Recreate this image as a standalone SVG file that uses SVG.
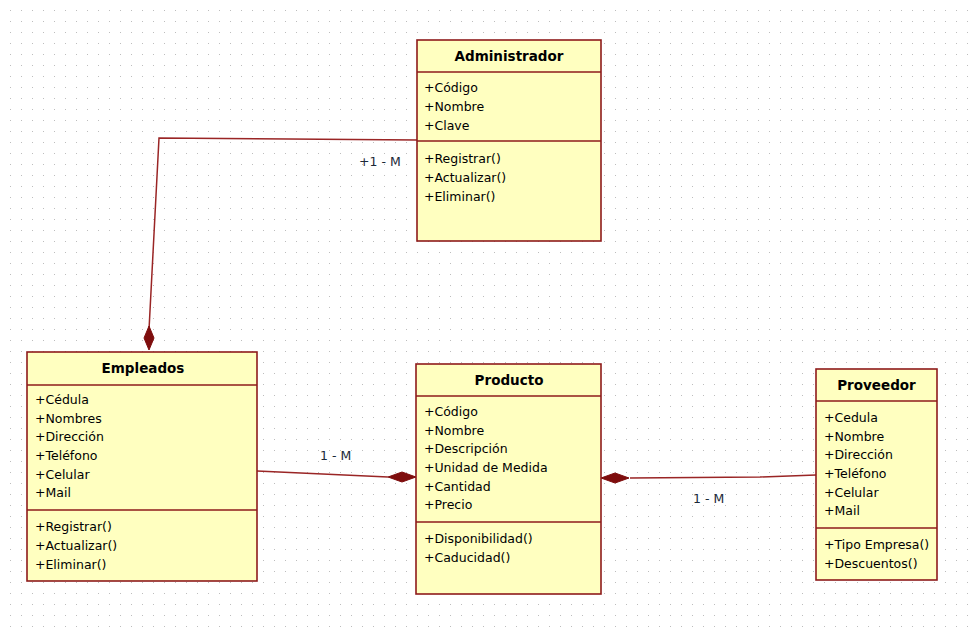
<svg xmlns="http://www.w3.org/2000/svg" width="976" height="633" viewBox="0 0 976 633">
<defs>
<pattern id="grid" x="0" y="0" width="11" height="11" patternUnits="userSpaceOnUse">
<rect x="10" y="10" width="1" height="1" fill="#bdbdbd"/>
</pattern>
<style>
.box{fill:#ffffc0;stroke:#8e1b1b;stroke-width:1.6}
.sep{stroke:#8e1b1b;stroke-width:1.6;fill:none}
.t{font-family:"DejaVu Sans",sans-serif;font-size:12.5px;fill:#000}
.h{font-family:"DejaVu Sans",sans-serif;font-size:13.5px;font-weight:bold;fill:#000;text-anchor:middle}
.conn{stroke:#9a2525;stroke-width:1.5;fill:none}
.dia{fill:#7e0d0d;stroke:#7e0d0d;stroke-width:1}
.lbl{font-family:"DejaVu Sans",sans-serif;font-size:12.5px;fill:#1c2838}
</style>
</defs>
<rect width="976" height="633" fill="#ffffff"/>
<rect width="976" height="633" fill="url(#grid)"/>

<g id="connectors">
<polyline class="conn" points="417,140 289,139 159,138 149,330"/>
<polygon class="dia" points="149,326 154,338 149,350 144,338"/>
<polyline class="conn" points="257,471 388,477"/>
<polygon class="dia" points="388,477 402,472 416,477 402,482"/>
<polyline class="conn" points="630,478 760,477 816,475"/>
<polygon class="dia" points="601,478 615,473 629,478 615,483"/>
<text class="lbl" x="359" y="166">+1 - M</text>
<text class="lbl" x="320" y="460">1 - M</text>
<text class="lbl" x="693" y="503">1 - M</text>
</g>

<g id="administrador">
<rect class="box" x="417" y="40" width="184" height="201"/>
<line class="sep" x1="417" y1="72" x2="601" y2="72"/>
<line class="sep" x1="417" y1="141" x2="601" y2="141"/>
<text class="h" x="509" y="61">Administrador</text>
<text class="t" x="424" y="92">+Código</text>
<text class="t" x="424" y="111">+Nombre</text>
<text class="t" x="424" y="130">+Clave</text>
<text class="t" x="424" y="163">+Registrar()</text>
<text class="t" x="424" y="182">+Actualizar()</text>
<text class="t" x="424" y="201">+Eliminar()</text>
</g>

<g id="empleados">
<rect class="box" x="27" y="352" width="230" height="229"/>
<line class="sep" x1="27" y1="385" x2="257" y2="385"/>
<line class="sep" x1="27" y1="510" x2="257" y2="510"/>
<text class="h" x="143" y="373">Empleados</text>
<text class="t" x="35" y="404">+Cédula</text>
<text class="t" x="35" y="423">+Nombres</text>
<text class="t" x="35" y="441">+Dirección</text>
<text class="t" x="35" y="460">+Teléfono</text>
<text class="t" x="35" y="479">+Celular</text>
<text class="t" x="35" y="497">+Mail</text>
<text class="t" x="35" y="531">+Registrar()</text>
<text class="t" x="35" y="550">+Actualizar()</text>
<text class="t" x="35" y="569">+Eliminar()</text>
</g>

<g id="producto">
<rect class="box" x="416" y="364" width="185" height="230"/>
<line class="sep" x1="416" y1="396" x2="601" y2="396"/>
<line class="sep" x1="416" y1="522" x2="601" y2="522"/>
<text class="h" x="509" y="385">Producto</text>
<text class="t" x="424" y="416">+Código</text>
<text class="t" x="424" y="435">+Nombre</text>
<text class="t" x="424" y="453">+Descripción</text>
<text class="t" x="424" y="472">+Unidad de Medida</text>
<text class="t" x="424" y="491">+Cantidad</text>
<text class="t" x="424" y="509">+Precio</text>
<text class="t" x="424" y="543">+Disponibilidad()</text>
<text class="t" x="424" y="562">+Caducidad()</text>
</g>

<g id="proveedor">
<rect class="box" x="816" y="369" width="121" height="211"/>
<line class="sep" x1="816" y1="401" x2="937" y2="401"/>
<line class="sep" x1="816" y1="528" x2="937" y2="528"/>
<text class="h" x="876.5" y="390">Proveedor</text>
<text class="t" x="824" y="422">+Cedula</text>
<text class="t" x="824" y="441">+Nombre</text>
<text class="t" x="824" y="459">+Dirección</text>
<text class="t" x="824" y="478">+Teléfono</text>
<text class="t" x="824" y="497">+Celular</text>
<text class="t" x="824" y="515">+Mail</text>
<text class="t" x="824" y="549">+Tipo Empresa()</text>
<text class="t" x="824" y="568">+Descuentos()</text>
</g>
</svg>
